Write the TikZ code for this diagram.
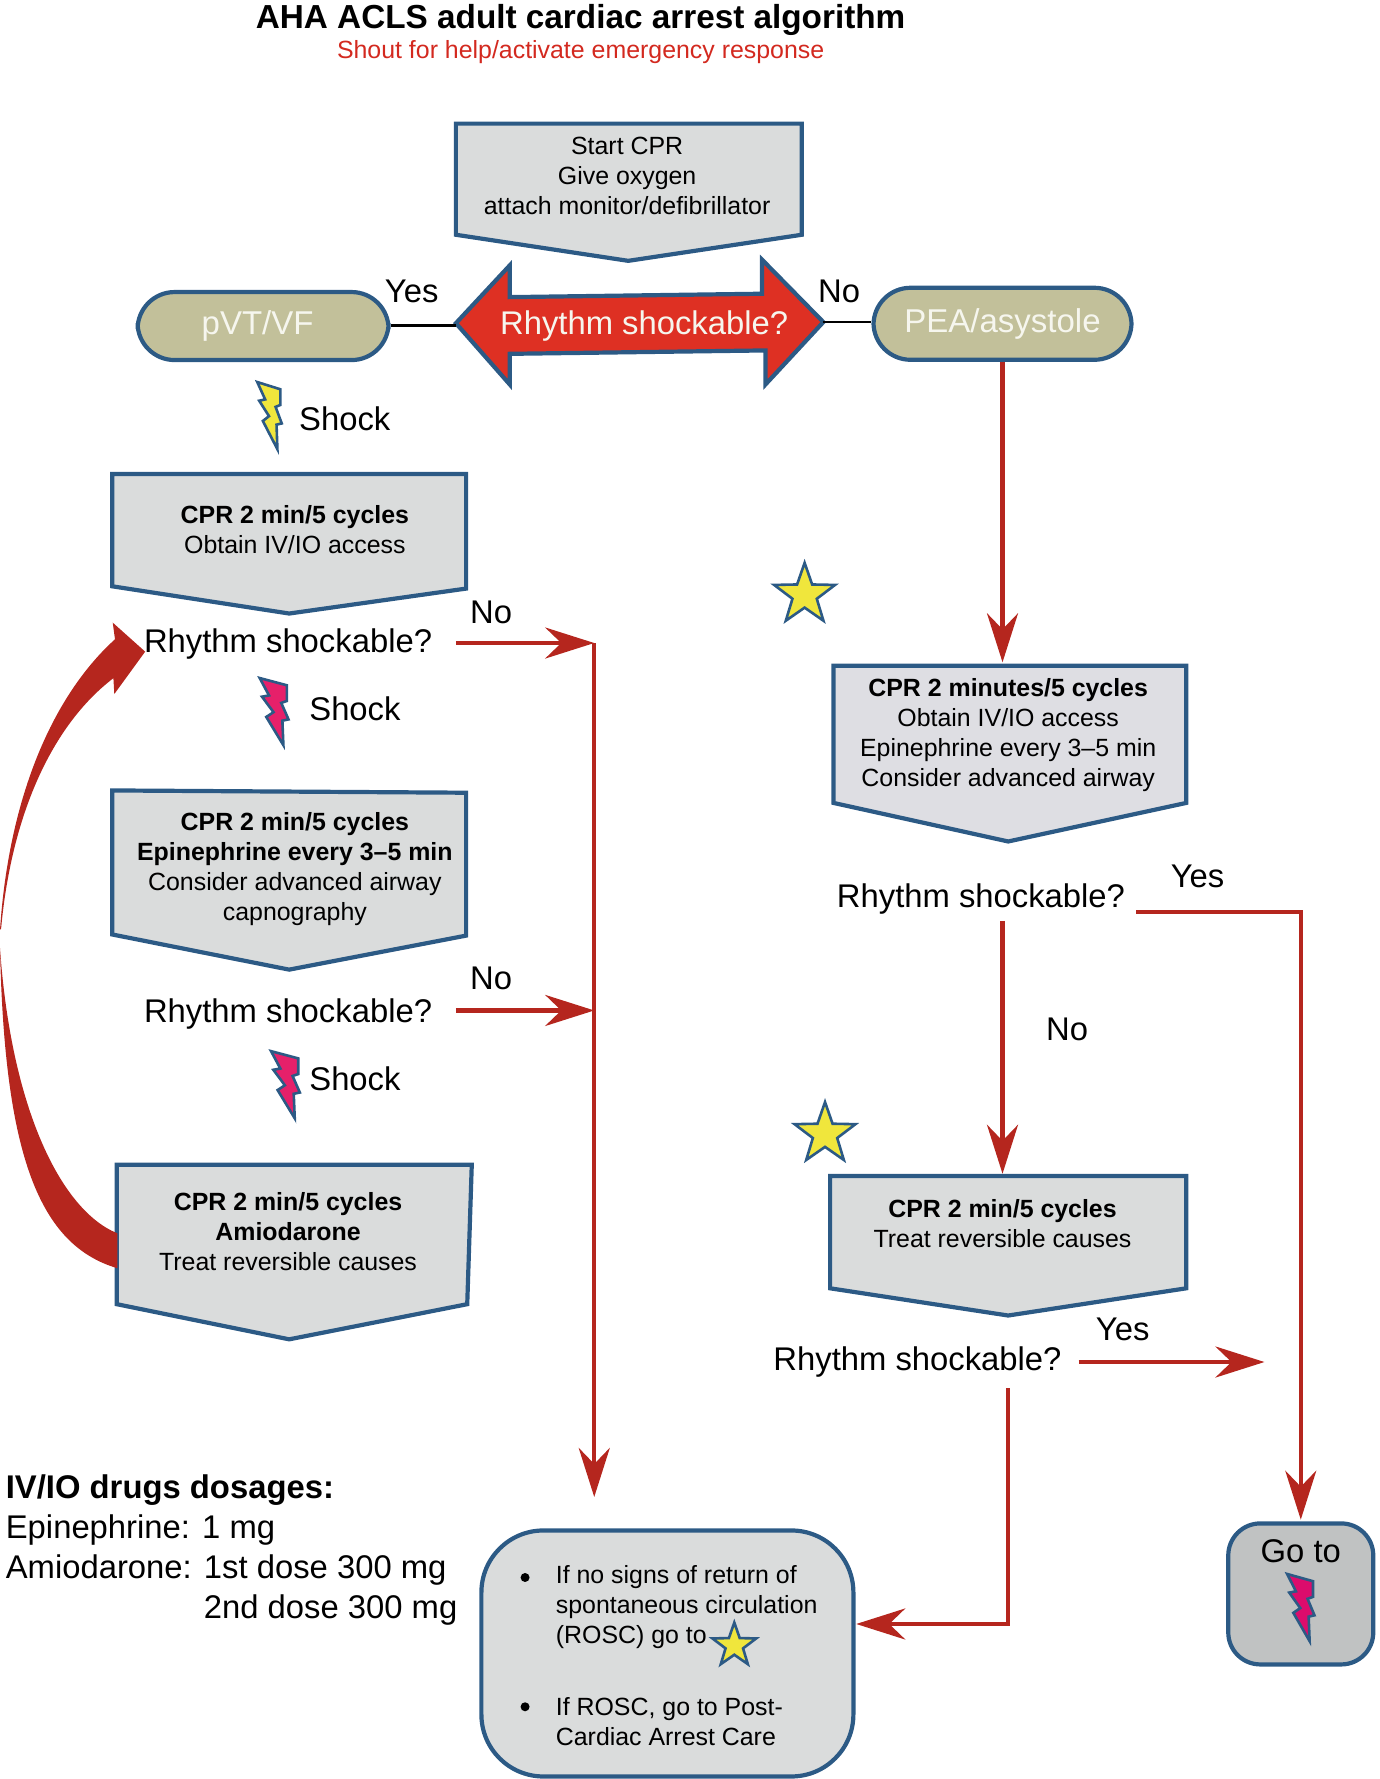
\documentclass[tikz,border=0pt]{standalone}
\usepackage{fontspec}
\setmainfont{Liberation Sans}
\usetikzlibrary{arrows.meta,shapes.geometric}
\definecolor{bluln}{HTML}{2C5A85}
\definecolor{redln}{HTML}{B5261E}
\definecolor{redar}{HTML}{DE3023}
\definecolor{titred}{HTML}{D3291F}
\definecolor{boxg}{HTML}{DADCDC}
\definecolor{boxl}{HTML}{DEDEE3}
\definecolor{boxd}{HTML}{C0C2C2}
\definecolor{olive}{HTML}{C2C09A}
\definecolor{cream}{HTML}{F6F6EE}
\definecolor{pink}{HTML}{E6206A}
\definecolor{pinkd}{HTML}{DC0C6C}
\definecolor{yel}{HTML}{F0E63C}
\newcommand\sstrut{\rule[-1pt]{0pt}{27pt}}
\newcommand\bstrut{\rule[-6pt]{0pt}{36pt}}
\newcommand\boltat[4]{\draw[boltln,fill=#1,shift={(#2,#3)},xscale=#4,yscale=0.94]
  (1,2)--(25,8.8)--(25,23.5)--(20,25.3)--(26.4,40.8)--(21,42)--(21.9,65)--(6.8,38.5)--(13.2,34)--(3,19.5)--(9.2,18.3)--cycle;}
\tikzset{
  pent/.style={draw=bluln,line width=4.2pt,line join=miter,fill=boxg},
  boltln/.style={draw=bluln,line width=2.6pt,line join=miter},
  small/.style={inner sep=0pt,align=center,font=\fontsize{24.9}{30}\selectfont,
    execute at begin node=\sstrut,execute at end node=\sstrut},
  big/.style={inner sep=0pt,align=center,font=\fontsize{32.8}{40}\selectfont,
    execute at begin node=\bstrut,execute at end node=\bstrut},
  pill/.style={draw=bluln,line width=4.2pt,fill=olive,rounded corners=37pt,inner sep=0pt,
    text=cream,font=\fontsize{33}{40}\selectfont},
  conn/.style={draw=black,line width=2.2pt},
  flow/.style={draw=redln,line width=4.2pt,line join=miter},
  tipped/.style={flow,-{Stealth[length=49pt,width=31pt,inset=16pt]}},
  strn/.style={star,star points=5,star point ratio=2.5,draw=bluln,line width=2.6pt,fill=yel,inner sep=0pt},
}
\begin{document}
\begin{tikzpicture}[x=1.13405pt,y=-1.13405pt]
\useasboundingbox (0,0) rectangle (1216,1568.7);
% heading
\node[anchor=center,inner sep=0pt,font=\fontsize{33.3}{38}\selectfont\bfseries] (title) at (512,18) {AHA ACLS adult cardiac arrest algorithm};
\node[small,text=titred] (shout) at (512,42.5) {Shout for help/activate emergency response};
% start box
\draw[pent] (402,109)--(707,109)--(707,207)--(554,230)--(402,207)--cycle;
\node[small] (start) at (553,155.5) {Start CPR\\Give oxygen\\attach monitor/defibrillator};
% decision
\draw[draw=bluln,line width=4.2pt,fill=redar,line join=miter]
  (402,285)--(449.5,234)--(449.5,262)--(672,259)--(672,229)--(726,284)--(675,339)--(675,309)--(449.5,312)--(449.5,339)--cycle;
\coordinate (decL) at (402,287);
\coordinate (decR) at (726,284);
\node[big,text=cream] (dec) at (568,285) {Rhythm shockable?};
\node[pill,minimum width=251pt,minimum height=68pt] (pvt) at (232,287.5) {pVT/VF\hspace*{11pt}};
\node[pill,minimum width=258pt,minimum height=72pt] (pea) at (884,285.5) {PEA/asystole};
\draw[conn] (pvt.east |- decL)--(decL);
\draw[conn] (decR)--(decR -| pea.west);
\node[big] (yes0) at (363,256) {Yes};
\node[big] (no0) at (740,256) {No};
% left column
\boltat{yel}{226}{335}{0.85}
\node[big] (shock1) at (304,369) {Shock};
\draw[pent] (99,418)--(411,418)--(411,519)--(255,541)--(99,517)--cycle;
\node[small] (b1) at (260,467.5) {\textbf{CPR 2 min/5 cycles}\\Obtain IV/IO access};
\node[big] (q1) at (254,565) {Rhythm shockable?};
\node[big] (no1) at (433,539) {No};
\boltat{pink}{228}{596}{1}
\node[big] (shock2) at (313,625) {Shock};
\draw[pent] (99,697)--(411,699)--(411,825)--(255,855)--(99,824)--cycle;
\node[small] (b2) at (260,766) {\textbf{CPR 2 min/5 cycles}\\\textbf{Epinephrine every 3–5 min}\\Consider advanced airway\\capnography};
\node[big] (q2) at (254,891) {Rhythm shockable?};
\node[big] (no2) at (433,862) {No};
\boltat{pink}{238}{925}{1}
\node[big] (shock3) at (313,951) {Shock};
\draw[pent] (103,1027)--(416,1027)--(412,1150)--(255,1181)--(103,1150)--cycle;
\node[small] (b3) at (254,1086) {\textbf{CPR 2 min/5 cycles}\\\textbf{Amiodarone}\\Treat reversible causes};
% big curved arrow
\fill[redln] (128,574.6)--(99.4,549)--(101.4,563.7)
  .. controls (48,612) and (8,700) .. (0,820)
  -- (1,818.6) .. controls (10,720) and (45,640) .. (100,598)
  --(100.8,612)--cycle;
\fill[redln] (103.5,1118.3) .. controls (35,1098) and (4,1020) .. (0,836)
  .. controls (10,980) and (55,1068) .. (103.5,1087.5)
  --cycle;
% left flow lines
\coordinate (r1o) at (402,567);
\coordinate (j1) at (524,567);
\coordinate (r2o) at (402,891);
\coordinate (j2) at (524,891);
\coordinate (d1) at (524,1320);
\draw[tipped] (r1o)--(j1);
\draw[tipped] (r2o)--(j2);
\draw[tipped] (j1)--(d1);
% right column
\node[strn,minimum size=64pt] (star1) at (709.5,524.5) {};
\draw[pent,fill=boxl] (735,587)--(1046,587)--(1046,708)--(889,742)--(735,708)--cycle;
\node[small] (b4) at (889,648) {\textbf{CPR 2 minutes/5 cycles}\\Obtain IV/IO access\\Epinephrine every 3–5 min\\Consider advanced airway};
\draw[tipped] (pea.south -| 884,0)--(884,584) coordinate (b4top);
\node[big] (q3) at (865,790) {Rhythm shockable?};
\node[big] (yes3) at (1056,772) {Yes};
\coordinate (q3o) at (1002,804);
\coordinate (k3) at (1147,804);
\coordinate (goin) at (1147,1340);
\draw[tipped] (q3o)--(k3)--(goin);
\coordinate (q3d) at (884,812);
\coordinate (b5top) at (884,1035);
\draw[tipped] (q3d)--(b5top);
\node[big] (no3) at (941,907) {No};
\node[strn,minimum size=64pt] (star2) at (727.5,1000) {};
\draw[pent] (732,1037)--(1046,1037)--(1046,1136)--(889,1160)--(732,1136)--cycle;
\node[small] (b5) at (884,1079) {\textbf{CPR 2 min/5 cycles}\\Treat reversible causes};
\node[big] (q4) at (809,1198) {Rhythm shockable?};
\node[big] (yes4) at (990,1171) {Yes};
\coordinate (q4o) at (951,1201);
\coordinate (q4e) at (1115,1201);
\draw[tipped] (q4o)--(q4e);
% drugs
\node[big,align=left,anchor=north west] (drugs) at (5,1300) {\textbf{IV/IO drugs dosages:}\\Epinephrine: 1 mg\\Amiodarone: 1st dose 300 mg\\\hspace*{198pt}2nd dose 300 mg};
% ROSC box
\node[draw=bluln,line width=4.2pt,fill=boxg,rounded corners=62pt,inner sep=0pt,minimum width=372pt,minimum height=246pt] (rosc) at (588.5,1458) {};
\node[small,align=left,anchor=west] (rosct1) at (490,1417.5) {If no signs of return of\\spontaneous circulation\\(ROSC) go to};
\node[small,align=left,anchor=west] (rosct2) at (490,1518) {If ROSC, go to Post-\\Cardiac Arrest Care};
\node[circle,fill=black,inner sep=0pt,minimum size=9pt] (bul1) at (463,1391) {};
\node[circle,fill=black,inner sep=0pt,minimum size=9pt] (bul2) at (463,1505) {};
\node[strn,minimum size=46pt] (star3) at (647.5,1451) {};
% go to box
\node[draw=bluln,line width=4.2pt,fill=boxd,rounded corners=32pt,inner sep=0pt,minimum width=145pt,minimum height=141pt] (goto) at (1147,1405.5) {};
\node[big] (gotot) at (1147,1367) {Go to};
\boltat{pinkd}{1134}{1386}{0.95}
% return line
\coordinate (q4d) at (889,1224);
\coordinate (k4) at (889,1432);
\coordinate (ri) at (755,1432);
\draw[tipped] (q4d)--(k4)--(ri);
\end{tikzpicture}
\end{document}
